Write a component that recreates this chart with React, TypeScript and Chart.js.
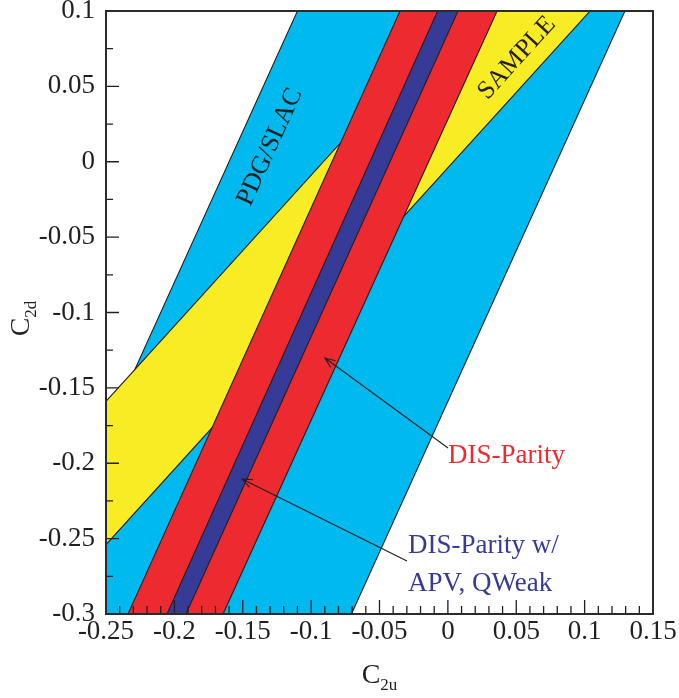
import { useEffect, useRef } from "react";
import { Chart, registerables } from "chart.js";

Chart.register(...registerables);

// ---- axis ticks ----
const X_TICKS = [-0.25, -0.2, -0.15, -0.1, -0.05, 0, 0.05, 0.1, 0.15];
const Y_TICKS = [-0.3, -0.25, -0.2, -0.15, -0.1, -0.05, 0, 0.05, 0.1];
const X_MINOR_PER_MAJOR = 5; // minor every 0.01
const Y_MINOR_PER_MAJOR = 2; // minor every 0.025

// ---- allowed regions (polygon corners, data units) ----
const pdgSlacX = [-0.11, 0.1295, -0.0705, -0.25, -0.25];
const pdgSlacY = [0.1, 0.1, -0.3, -0.3, -0.18];
const sampleX = [-0.25, 0.009, 0.104, -0.25];
const sampleY = [-0.159, 0.1, 0.1, -0.254];
const disParityX = [-0.035, 0.036, -0.1644, -0.2339];
const disParityY = [0.1, 0.1, -0.3, -0.3];
const disApvX = [-0.0075, 0.0074, -0.1915, -0.2054];
const disApvY = [0.1, 0.1, -0.3, -0.3];

// ---- in-band rotated labels ----
const bandLabelText = ["PDG/SLAC", "SAMPLE"];
const bandLabelX = [-0.13, 0.0505];
const bandLabelY = [0.0098, 0.0688];
const bandLabelSlope = [2, 1];

// ---- callouts ----
const calloutLines = [["DIS-Parity"], ["DIS-Parity w/", "APV, QWeak"]];
const calloutColor = ["#EC2A30", "#363B97"];
const calloutTextX = [0.0001, -0.0292];
const calloutTextY = [[-0.1998], [-0.2595, -0.2847]];
const arrowTail = [[0.0001, -0.1899], [-0.0299, -0.2648]];
const arrowHead = [[-0.0899, -0.1302], [-0.1505, -0.2104]];

const INK = "#231F20";
const SERIF = "'Liberation Serif', 'Times New Roman', serif";

const toPts = (xs: number[], ys: number[]) => {
  const pts = xs.map((x, i) => ({ x, y: ys[i] }));
  pts.push({ x: xs[0], y: ys[0] });
  return pts;
};

const band = (label: string, xs: number[], ys: number[], color: string) => ({
  label,
  data: toPts(xs, ys),
  showLine: true,
  fill: "shape" as const,
  backgroundColor: color,
  borderColor: INK,
  borderWidth: 1.1,
  pointRadius: 0,
  tension: 0,
});

const fmt = (v: number) => String(+Number(v).toFixed(2));

const overlay = {
  id: "overlay",
  afterDatasetsDraw(chart: any) {
    const { ctx, chartArea: a, scales } = chart;
    const xs = scales.x;
    const ys = scales.y;
    const px = (v: number) => xs.getPixelForValue(v);
    const py = (v: number) => ys.getPixelForValue(v);
    ctx.save();

    // inward ticks
    ctx.strokeStyle = INK;
    ctx.lineWidth = 1.3;
    ctx.beginPath();
    for (let i = 0; i < X_TICKS.length; i++) {
      const p = px(X_TICKS[i]);
      ctx.moveTo(p, a.bottom);
      ctx.lineTo(p, a.bottom - 14);
      if (i < X_TICKS.length - 1) {
        for (let k = 1; k < X_MINOR_PER_MAJOR; k++) {
          const v = X_TICKS[i] + ((X_TICKS[i + 1] - X_TICKS[i]) * k) / X_MINOR_PER_MAJOR;
          const q = px(v);
          ctx.moveTo(q, a.bottom);
          ctx.lineTo(q, a.bottom - 8);
        }
      }
    }
    for (let i = 0; i < Y_TICKS.length; i++) {
      const p = py(Y_TICKS[i]);
      ctx.moveTo(a.left, p);
      ctx.lineTo(a.left + 13, p);
      if (i < Y_TICKS.length - 1) {
        for (let k = 1; k < Y_MINOR_PER_MAJOR; k++) {
          const v = Y_TICKS[i] + ((Y_TICKS[i + 1] - Y_TICKS[i]) * k) / Y_MINOR_PER_MAJOR;
          const q = py(v);
          ctx.moveTo(a.left, q);
          ctx.lineTo(a.left + 7, q);
        }
      }
    }
    ctx.stroke();

    // frame
    ctx.lineWidth = 2;
    ctx.strokeStyle = "#2b2b2b";
    ctx.strokeRect(a.left, a.top, a.right - a.left, a.bottom - a.top);

    // band labels
    ctx.fillStyle = INK;
    ctx.font = `26px ${SERIF}`;
    ctx.textAlign = "center";
    ctx.textBaseline = "middle";
    for (let i = 0; i < bandLabelText.length; i++) {
      const cx = px(bandLabelX[i]);
      const cy = py(bandLabelY[i]);
      const d = 0.05;
      const ang = Math.atan2(
        py(bandLabelY[i] + bandLabelSlope[i] * d) - cy,
        px(bandLabelX[i] + d) - cx
      );
      ctx.save();
      ctx.translate(cx, cy);
      ctx.rotate(ang);
      ctx.fillText(bandLabelText[i], 0, 0);
      ctx.restore();
    }

    // callouts
    ctx.textAlign = "left";
    ctx.textBaseline = "alphabetic";
    ctx.font = `27px ${SERIF}`;
    for (let i = 0; i < calloutLines.length; i++) {
      ctx.fillStyle = calloutColor[i];
      calloutLines[i].forEach((t, j) => {
        ctx.fillText(t, px(calloutTextX[i]), py(calloutTextY[i][j]));
      });
      const tx = px(arrowTail[i][0]);
      const ty = py(arrowTail[i][1]);
      const hx = px(arrowHead[i][0]);
      const hy = py(arrowHead[i][1]);
      const ang = Math.atan2(hy - ty, hx - tx);
      const L = 11;
      const spread = 0.38;
      ctx.strokeStyle = INK;
      ctx.lineWidth = 1.1;
      ctx.beginPath();
      ctx.moveTo(tx, ty);
      ctx.lineTo(hx, hy);
      ctx.moveTo(hx - L * Math.cos(ang - spread), hy - L * Math.sin(ang - spread));
      ctx.lineTo(hx, hy);
      ctx.lineTo(hx - L * Math.cos(ang + spread), hy - L * Math.sin(ang + spread));
      ctx.stroke();
    }

    // axis titles with subscripts
    const drawSub = (main: string, sub: string, cx: number, cy: number, rot: number) => {
      ctx.save();
      ctx.translate(cx, cy);
      ctx.rotate(rot);
      ctx.fillStyle = INK;
      ctx.textAlign = "left";
      ctx.textBaseline = "alphabetic";
      ctx.font = `28px ${SERIF}`;
      const w1 = ctx.measureText(main).width;
      ctx.font = `17px ${SERIF}`;
      const w2 = ctx.measureText(sub).width;
      const x0 = -(w1 + w2) / 2;
      ctx.font = `28px ${SERIF}`;
      ctx.fillText(main, x0, 0);
      ctx.font = `17px ${SERIF}`;
      ctx.fillText(sub, x0 + w1, 7);
      ctx.restore();
    };
    drawSub("C", "2u", (a.left + a.right) / 2, 683, 0);
    drawSub("C", "2d", 29, (a.top + a.bottom) / 2 + 6, -Math.PI / 2);

    ctx.restore();
  },
};

export default function App() {
  const ref = useRef<HTMLCanvasElement>(null);
  useEffect(() => {
    if (!ref.current) return;
    const zeroPad = (s: any) => {
      s.paddingLeft = 0;
      s.paddingRight = 0;
      s.paddingTop = 0;
      s.paddingBottom = 0;
    };
    const chart = new Chart(ref.current, {
      type: "scatter",
      data: {
        datasets: [
          band("DIS-Parity w/ APV, QWeak", disApvX, disApvY, "#353B97"),
          band("DIS-Parity", disParityX, disParityY, "#EC2A30"),
          band("SAMPLE", sampleX, sampleY, "#F8EC25"),
          band("PDG/SLAC", pdgSlacX, pdgSlacY, "#00B9EF"),
        ] as any,
      },
      options: {
        responsive: false,
        animation: false,
        events: [],
        layout: { padding: { left: 0, right: 26, top: 11, bottom: 0 } },
        plugins: { legend: { display: false }, tooltip: { enabled: false } },
        scales: {
          x: {
            type: "linear",
            min: -0.25,
            max: 0.15,
            grid: { display: false, drawTicks: false },
            border: { display: false },
            afterBuildTicks: (s: any) => {
              s.ticks = X_TICKS.map((v) => ({ value: v }));
            },
            afterFit: (s: any) => {
              s.height = 84;
              zeroPad(s);
            },
            ticks: {
              autoSkip: false,
              maxRotation: 0,
              minRotation: 0,
              padding: 2,
              color: INK,
              font: { family: SERIF, size: 27 },
              callback: (v: any) => fmt(v),
            },
          },
          y: {
            type: "linear",
            min: -0.3,
            max: 0.1,
            grid: { display: false, drawTicks: false },
            border: { display: false },
            afterBuildTicks: (s: any) => {
              s.ticks = Y_TICKS.map((v) => ({ value: v }));
            },
            afterFit: (s: any) => {
              s.width = 106;
              zeroPad(s);
            },
            ticks: {
              autoSkip: false,
              padding: 11,
              color: INK,
              font: { family: SERIF, size: 27 },
              callback: (v: any) => fmt(v),
            },
          },
        },
      },
      plugins: [overlay],
    });
    return () => chart.destroy();
  }, []);
  return (
    <div style={{ position: "fixed", left: 0, top: 0, width: 679, height: 698, background: "#fff" }}>
      <canvas ref={ref} width={679} height={698} style={{ display: "block" }} />
    </div>
  );
}
